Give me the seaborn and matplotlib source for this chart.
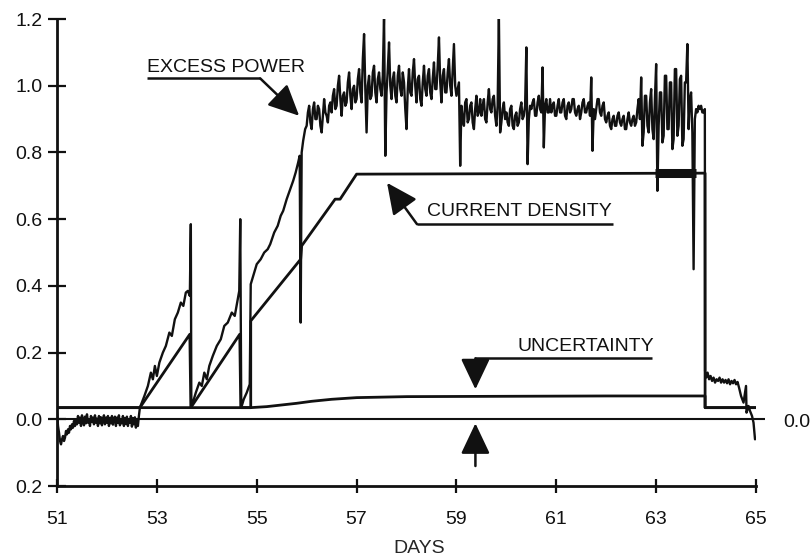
#!/usr/bin/env python3
"""
Excess power / current density / uncertainty vs days (scanned cell run).
"""

import matplotlib

matplotlib.use("Agg")
import matplotlib.pyplot as plt
import numpy as np
import pandas as pd
import seaborn as sns

# --- excess power: quiet baseline before the first ramp, one reading every 0.02 d
BASE_START = 51.0
BASE_STEP = 0.02
base_vals = [
    0.02, -0.02, -0.04, -0.065, -0.075, -0.06, -0.05, -0.065, -0.055, -0.035,
    -0.045, -0.03, -0.04, -0.02, -0.03, -0.015, -0.025, -0.005, -0.02, 0.0,
    -0.015, 0.01, -0.01, 0.005, -0.02, 0.012, -0.005, -0.018, 0.008, -0.012,
    0.015, -0.01, 0.0, -0.02, 0.01, -0.008, 0.005, -0.015, 0.012, -0.01,
    0.002, -0.02, 0.01, -0.012, 0.006, -0.018, 0.0, 0.012, -0.015, 0.005,
    -0.01, 0.01, -0.02, 0.004, -0.012, 0.01, -0.016, 0.0, 0.008, -0.02,
    0.005, -0.01, 0.012, -0.018, 0.0, -0.012, 0.01, -0.02, 0.004, -0.014,
    0.008, -0.02, 0.0, -0.01, 0.01, -0.022, 0.004, -0.015, 0.006, -0.025,
    0.0, -0.02, 0.01,
]

# --- excess power: the three ramps up to the plateau
ramp_days = [
    52.66, 52.75, 52.82, 52.88, 52.92, 52.96, 53.00, 53.05, 53.12, 53.18,
    53.25, 53.30, 53.36, 53.42, 53.48, 53.53, 53.58, 53.62, 53.66, 53.68,
    53.69, 53.72, 53.78, 53.85, 53.90, 53.95, 54.00, 54.05, 54.12, 54.20,
    54.28, 54.35, 54.42, 54.50, 54.56, 54.62, 54.65, 54.67, 54.69, 54.74,
    54.80, 54.86, 54.88, 54.95, 55.00, 55.08, 55.15, 55.22, 55.27, 55.35,
    55.42, 55.48, 55.53, 55.60, 55.67, 55.73, 55.78, 55.83, 55.86, 55.88,
    55.90, 55.93, 55.97,
]
ramp_vals = [
    0.035, 0.07, 0.10, 0.14, 0.12, 0.16, 0.13, 0.17, 0.20, 0.22,
    0.26, 0.25, 0.30, 0.32, 0.35, 0.34, 0.38, 0.385, 0.37, 0.585,
    0.04, 0.05, 0.08, 0.11, 0.10, 0.14, 0.12, 0.16, 0.19, 0.22,
    0.24, 0.28, 0.29, 0.32, 0.31, 0.36, 0.385, 0.60, 0.035, 0.06,
    0.08, 0.105, 0.405, 0.44, 0.465, 0.48, 0.50, 0.51, 0.525, 0.56,
    0.58, 0.61, 0.625, 0.66, 0.69, 0.715, 0.74, 0.77, 0.79, 0.29,
    0.80, 0.835, 0.87,
]

# --- excess power: noisy plateau, one reading every 0.025 d (20 per half day)
PLATEAU_START = 56.0
PLATEAU_STEP = 0.025
plateau_vals = [
    0.88, 0.92, 0.94, 0.89, 0.87, 0.93, 0.95, 0.90, 0.90, 0.94, 0.93, 0.88, 0.86, 0.91, 0.96, 0.92, 0.91, 0.89, 0.94, 0.95,
    0.92, 0.97, 0.99, 0.93, 0.94, 1.00, 1.03, 0.96, 0.91, 0.97, 0.98, 0.94, 0.95, 1.01, 1.04, 0.97, 0.93, 0.99, 1.00, 0.95,
    0.96, 1.02, 1.05, 0.98, 0.95, 1.08, 1.155, 0.99, 0.86, 1.00, 1.03, 0.96, 0.97, 1.04, 1.06, 0.98, 0.95, 1.02, 1.04, 0.99,
    0.97, 1.03, 1.21, 0.79, 0.98, 1.05, 1.13, 1.00, 0.96, 1.02, 1.04, 0.97, 0.95, 1.03, 1.06, 0.99, 0.97, 1.04, 1.01, 0.93,
    0.87, 0.99, 1.05, 0.98, 0.97, 1.04, 1.08, 1.00, 0.95, 1.02, 1.03, 0.96, 0.94, 1.01, 1.06, 0.99, 0.97, 1.03, 1.05, 0.98,
    0.96, 1.02, 1.07, 0.99, 0.99, 1.06, 1.145, 1.01, 0.95, 1.03, 1.05, 0.98, 0.98, 1.04, 1.08, 1.00, 0.97, 1.05, 1.125, 1.00,
    0.97, 0.99, 1.01, 0.76, 0.94, 0.90, 0.88, 0.95, 0.96, 0.89, 0.90, 0.94, 0.95, 0.89, 0.87, 0.93, 0.97, 0.91, 0.92, 0.96,
    0.91, 0.94, 0.96, 0.90, 0.89, 0.95, 0.99, 0.93, 0.92, 0.96, 0.97, 0.91, 0.88, 0.94, 1.21, 0.86, 0.89, 0.93, 0.95, 0.90,
    0.92, 0.89, 0.88, 0.93, 0.94, 0.88, 0.87, 0.91, 0.92, 0.88, 0.89, 0.93, 0.95, 0.90, 0.91, 0.94, 1.115, 0.765, 0.90, 0.94,
    0.93, 0.95, 0.96, 0.91, 0.91, 0.95, 0.97, 0.93, 0.92, 1.055, 0.815, 0.94, 0.96, 0.92, 0.92, 0.96, 0.92, 0.94, 0.95, 0.91,
    0.91, 0.94, 0.96, 0.92, 0.92, 0.95, 0.96, 0.91, 0.90, 0.94, 0.95, 0.92, 0.93, 0.96, 0.96, 0.92, 0.91, 0.93, 0.94, 0.90,
    0.92, 0.95, 0.96, 0.92, 0.92, 0.94, 0.95, 0.91, 1.025, 0.805, 0.93, 0.90, 0.93, 0.96, 0.96, 0.92, 0.91, 0.94, 0.95, 0.90,
    0.89, 0.91, 0.92, 0.88, 0.87, 0.90, 0.91, 0.88, 0.88, 0.91, 0.92, 0.89, 0.88, 0.90, 0.91, 0.87, 0.87, 0.90, 0.92, 0.89,
    0.88, 0.90, 0.91, 0.88, 0.89, 0.93, 0.96, 0.90, 1.025, 0.82, 0.86, 0.97, 0.97, 0.88, 0.86, 0.95, 0.99, 0.87, 0.84, 0.96,
    1.065, 0.685, 0.88, 0.98, 0.98, 0.83, 0.85, 1.03, 1.03, 0.87, 0.87, 1.01, 1.01, 0.81, 0.84, 1.05, 1.05, 0.85, 0.88, 1.02,
    1.03, 0.82, 0.84, 1.01, 1.01, 1.125, 0.87, 0.96, 0.98, 0.86, 0.45, 0.90, 0.93, 0.92, 0.94, 0.93, 0.94, 0.92, 0.92, 0.93,
]

# --- excess power: after the current is cut
tail_days = [
    63.98, 64.00, 64.03, 64.06, 64.09, 64.12, 64.15, 64.18, 64.21, 64.24,
    64.27, 64.30, 64.33, 64.36, 64.39, 64.42, 64.45, 64.48, 64.51, 64.54,
    64.57, 64.60, 64.63, 64.66, 64.70, 64.75, 64.80, 64.81, 64.85, 64.88,
    64.92, 64.95, 64.98,
]
tail_vals = [
    0.145, 0.125, 0.14, 0.12, 0.13, 0.115, 0.125, 0.11, 0.12, 0.115,
    0.125, 0.11, 0.12, 0.11, 0.118, 0.108, 0.12, 0.105, 0.115, 0.108,
    0.118, 0.105, 0.112, 0.095, 0.07, 0.05, 0.10, 0.02, 0.04, 0.025,
    0.01, -0.01, -0.06,
]

# --- current density (same scale)
cd_days = [
    51.00, 52.66, 53.66, 53.68, 54.66, 54.68, 54.88, 54.88, 55.88, 55.90,
    56.57, 56.67, 57.00, 63.98, 63.98, 65.00,
]
cd_vals = [
    0.035, 0.035, 0.255, 0.035, 0.255, 0.035, 0.035, 0.295, 0.48, 0.52,
    0.66, 0.66, 0.735, 0.738, 0.035, 0.035,
]
# stretch where the current trace is smeared into a heavy bar
cd_busy_days = [62.98, 63.80]
cd_busy_vals = [0.737, 0.737]

# --- uncertainty band
unc_days = [51.00, 54.88, 55.20, 55.50, 55.80, 56.10, 56.50, 57.00, 58.00, 60.00, 62.00, 63.98, 63.98, 65.00]
unc_vals = [0.035, 0.035, 0.038, 0.043, 0.048, 0.054, 0.060, 0.065, 0.068, 0.069, 0.070, 0.070, 0.035, 0.035]

x_ticks = [51, 53, 55, 57, 59, 61, 63, 65]
x_tick_labels = ["51", "53", "55", "57", "59", "61", "63", "65"]
y_ticks = [-0.2, 0.0, 0.2, 0.4, 0.6, 0.8, 1.0, 1.2]
y_tick_labels = ["0.2", "0.0", "0.2", "0.4", "0.6", "0.8", "1.0", "1.2"]

INK = "#111111"


def main() -> None:
    base_days = BASE_START + BASE_STEP * np.arange(len(base_vals))
    plateau_days = PLATEAU_START + PLATEAU_STEP * np.arange(len(plateau_vals))
    excess = pd.DataFrame(
        {
            "day": np.concatenate([base_days, ramp_days, plateau_days, tail_days]),
            "value": np.concatenate([base_vals, ramp_vals, plateau_vals, tail_vals]),
        }
    )
    current = pd.DataFrame({"day": cd_days, "value": cd_vals})
    busy = pd.DataFrame({"day": cd_busy_days, "value": cd_busy_vals})
    uncert = pd.DataFrame({"day": unc_days, "value": unc_vals})

    sns.set_theme(style="ticks")
    plt.rcParams["font.family"] = ["Liberation Sans", "DejaVu Sans"]
    plt.rcParams["font.size"] = 14

    fig = plt.figure(figsize=(8.11, 5.60), dpi=100)
    ax = fig.add_axes([0.0703, 0.1321, 0.8619, 0.8339])

    # zero reference line runs a little past the axis end
    ax.hlines(0.0, 51.0, 65.17, color=INK, lw=1.5, clip_on=False, zorder=1)

    sns.lineplot(data=uncert, x="day", y="value", ax=ax, color=INK, lw=2.0,
                 estimator=None, sort=False)
    sns.lineplot(data=current, x="day", y="value", ax=ax, color=INK, lw=2.0,
                 estimator=None, sort=False)
    sns.lineplot(data=busy, x="day", y="value", ax=ax, color=INK, lw=6.5,
                 estimator=None, sort=False, solid_capstyle="butt")
    sns.lineplot(data=excess, x="day", y="value", ax=ax, color=INK, lw=1.7,
                 estimator=None, sort=False)

    ax.set_xlim(51, 65)
    ax.set_ylim(-0.2, 1.2)
    ax.set_xticks(x_ticks)
    ax.set_xticklabels(x_tick_labels)
    ax.set_yticks(y_ticks)
    ax.set_yticklabels(y_tick_labels)
    ax.set_ylabel("")
    ax.set_xlabel("DAYS", fontsize=14)
    ax.xaxis.set_label_coords(0.518, -0.1156)
    ax.xaxis.label.set_verticalalignment("top")

    sns.despine(ax=ax)
    for side in ("left", "bottom"):
        ax.spines[side].set_linewidth(2.0)
        ax.spines[side].set_color(INK)
    ax.tick_params(axis="y", direction="inout", length=13, width=1.6,
                   pad=4, labelsize=14, colors=INK)
    ax.tick_params(axis="x", direction="inout", length=10, width=1.6,
                   pad=13, labelsize=14, colors=INK)

    head = dict(arrowstyle="-|>,head_length=0.95,head_width=0.45",
                mutation_scale=20, color=INK, lw=1.8, shrinkA=0, shrinkB=0)

    # EXCESS POWER label + leader
    ax.text(52.80, 1.042, "EXCESS POWER", ha="left", va="baseline", fontsize=14, color=INK)
    ax.plot([52.80, 55.07], [1.022, 1.022], color=INK, lw=1.8, solid_capstyle="butt")
    ax.annotate("", xy=(55.85, 0.91), xytext=(55.07, 1.022), arrowprops=head)

    # CURRENT DENSITY label + leader
    ax.text(58.42, 0.610, "CURRENT DENSITY", ha="left", va="baseline", fontsize=14, color=INK)
    ax.plot([58.21, 62.14], [0.585, 0.585], color=INK, lw=1.8, solid_capstyle="butt")
    ax.annotate("", xy=(57.61, 0.709), xytext=(58.21, 0.585), arrowprops=head)

    # UNCERTAINTY label + leader
    ax.text(60.22, 0.204, "UNCERTAINTY", ha="left", va="baseline", fontsize=14, color=INK)
    ax.plot([59.38, 62.92], [0.183, 0.183], color=INK, lw=1.8, solid_capstyle="butt")
    ax.annotate("", xy=(59.38, 0.09), xytext=(59.38, 0.183), arrowprops=head)
    ax.annotate("", xy=(59.38, -0.012), xytext=(59.38, -0.14), arrowprops=head)

    ax.text(65.81, -0.009, "0.0", ha="center", va="center", fontsize=14,
            color=INK, clip_on=False)

    fig.savefig("out.png", dpi=100)
    plt.close(fig)


if __name__ == "__main__":
    main()
